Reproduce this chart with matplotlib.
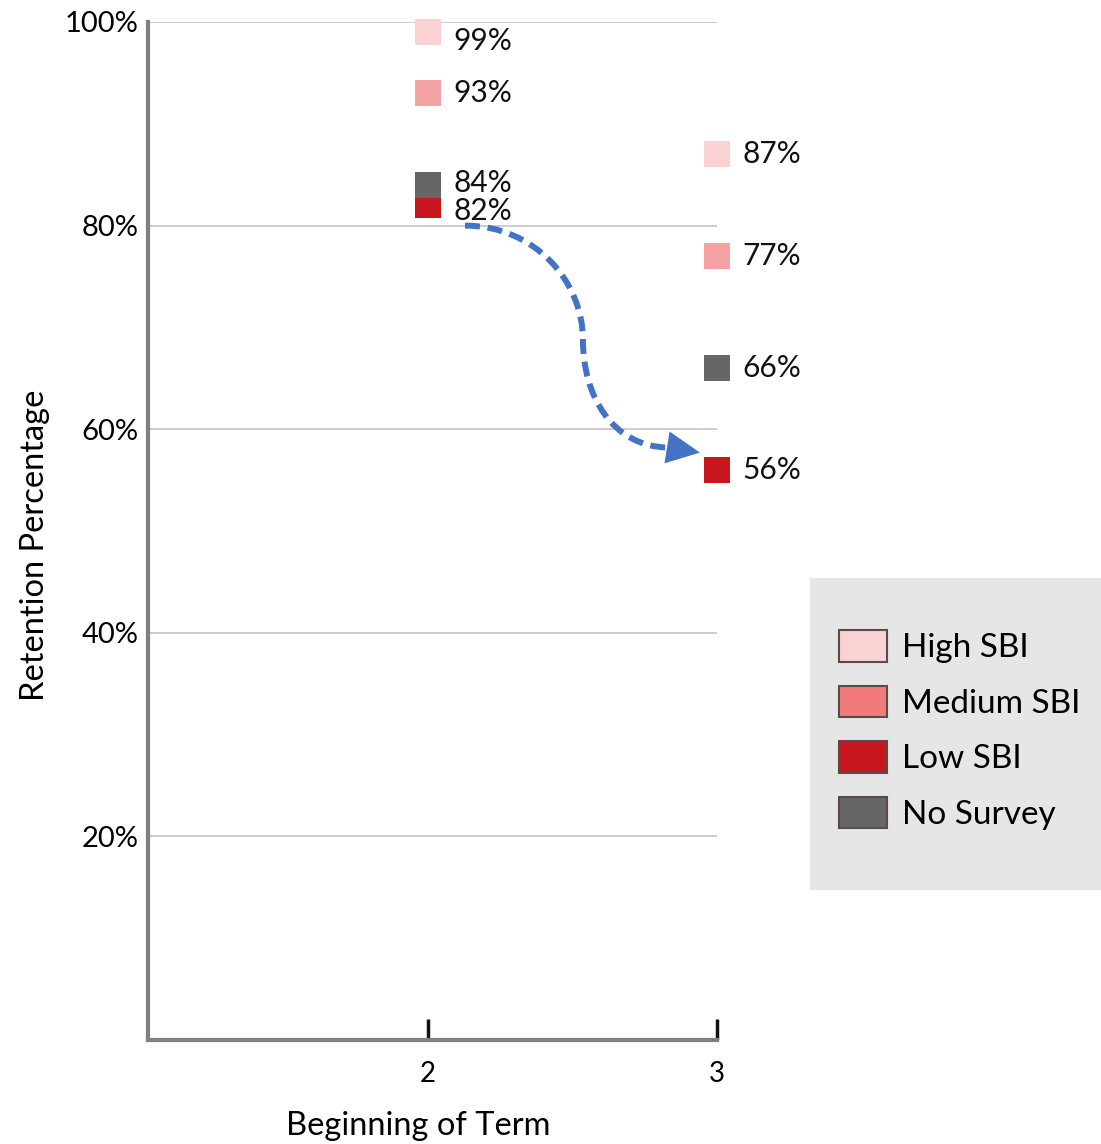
import matplotlib as mpl
mpl.use('Agg')
import matplotlib.pyplot as plt
from matplotlib.patches import Patch, Rectangle, PathPatch, FancyArrowPatch
from matplotlib.path import Path

plt.rcParams['font.family'] = ['Lato', 'DejaVu Sans']

# data
terms = [2, 3]
groups = ['High SBI', 'Medium SBI', 'Low SBI', 'No Survey']
high_sbi = [99, 87]
medium_sbi = [93, 77]
low_sbi = [82, 56]
no_survey = [84, 66]
yticks = [20, 40, 60, 80, 100]
ytick_labels = ['20%', '40%', '60%', '80%', '100%']

plot_colors = {'High SBI': '#FAD2D4', 'Medium SBI': '#F4A2A4',
               'Low SBI': '#C8161E', 'No Survey': '#666666'}
legend_colors = {'High SBI': '#FAD2D4', 'Medium SBI': '#F27A7C',
                 'Low SBI': '#C8161E', 'No Survey': '#666666'}
series = {'High SBI': high_sbi, 'Medium SBI': medium_sbi,
          'Low SBI': low_sbi, 'No Survey': no_survey}

fig = plt.figure(figsize=(11.01, 11.44), dpi=100)
ax = fig.add_axes([148 / 1101, 104 / 1144, 569 / 1101, 1018 / 1144])

ax.set_xlim(1.031, 3.0)
ax.set_ylim(0, 100)

for name in ['High SBI', 'Medium SBI', 'Low SBI', 'No Survey']:
    ax.plot(terms, series[name], linestyle='none', marker='s', markersize=19,
            markeredgewidth=0, color=plot_colors[name], clip_on=False, zorder=3)

# value labels, pushed apart when two values are close
for i, x in enumerate(terms):
    vals = sorted([series[g][i] for g in groups], reverse=True)
    offsets = [0] * len(vals)
    for k, v in enumerate(vals):
        if v >= 98:
            offsets[k] = -6
        if k > 0 and vals[k - 1] - v < 3:
            offsets[k - 1] += 1
            offsets[k] = -4
    for v, dy in zip(vals, offsets):
        ax.annotate('%d%%' % v, (x, v), xytext=(18, dy), textcoords='offset points',
                    ha='left', va='center', fontsize=21.5, color='#111111')

# curved dashed arrow from term 2 low to term 3 low
x0, x1 = terms
y0, y1 = low_sbi
verts = [(x0 + 0.128, y0 - 2.0),
         (x0 + 0.370, y0 - 2.0), (x0 + 0.536, y0 - 7.5), (x0 + 0.536, y0 - 13.2),
         (x0 + 0.536, y0 - 18.8), (x0 + 0.640, y1 + 2.3), (x1 - 0.170, y1 + 2.2)]
codes = [Path.MOVETO] + [Path.CURVE4] * 6
ax.add_patch(PathPatch(Path(verts, codes), facecolor='none', edgecolor='#4472C4',
                       linewidth=4.3, linestyle=(0, (2.5, 1.3)), capstyle='butt',
                       zorder=4))
ax.add_patch(FancyArrowPatch((x1 - 0.170, y1 + 2.2), (x1 - 0.059, y1 + 1.7),
                             arrowstyle='-|>,head_length=1.2,head_width=0.58',
                             mutation_scale=20, color='#4472C4', linewidth=0,
                             shrinkA=0, shrinkB=0, zorder=4))

# axes styling
ax.set_yticks(yticks)
ax.set_yticklabels(ytick_labels)
ax.set_xticks(terms)
ax.set_xticklabels([str(t) for t in terms])
ax.yaxis.grid(True, color='#C8C8C8', linewidth=1.3)
ax.set_axisbelow(True)
ax.tick_params(axis='y', length=0, pad=7, labelsize=21)
ax.tick_params(axis='x', direction='in', length=15, width=2.5, color='#111111',
               pad=15, labelsize=20)
for s in ['top', 'right']:
    ax.spines[s].set_visible(False)
for s in ['left', 'bottom']:
    ax.spines[s].set_color('#808080')
    ax.spines[s].set_linewidth(3)

ax.set_ylabel('Retention Percentage', fontsize=23.5)
ax.yaxis.set_label_coords(-0.172, 0.486)
ax.set_xlabel('Beginning of Term', fontsize=23.5)
ax.xaxis.set_label_coords(0.4745, -0.07)

# legend box
fig.patches.append(Rectangle((810 / 1101, 254 / 1144), 291 / 1101, 312 / 1144,
                             transform=fig.transFigure, facecolor='#E6E6E6',
                             edgecolor='none', zorder=0))
handles = [Patch(facecolor=legend_colors[g], edgecolor='#5A4A4A', linewidth=1.5, label=g)
           for g in groups]
fig.legend(handles=handles, loc='center left', bbox_to_anchor=(839 / 1101, 414 / 1144),
           frameon=False, fontsize=24, handlelength=1.44, handleheight=1.08,
           handletextpad=0.45, labelspacing=0.67, borderpad=0, borderaxespad=0)

fig.savefig('out.png', dpi=100)
